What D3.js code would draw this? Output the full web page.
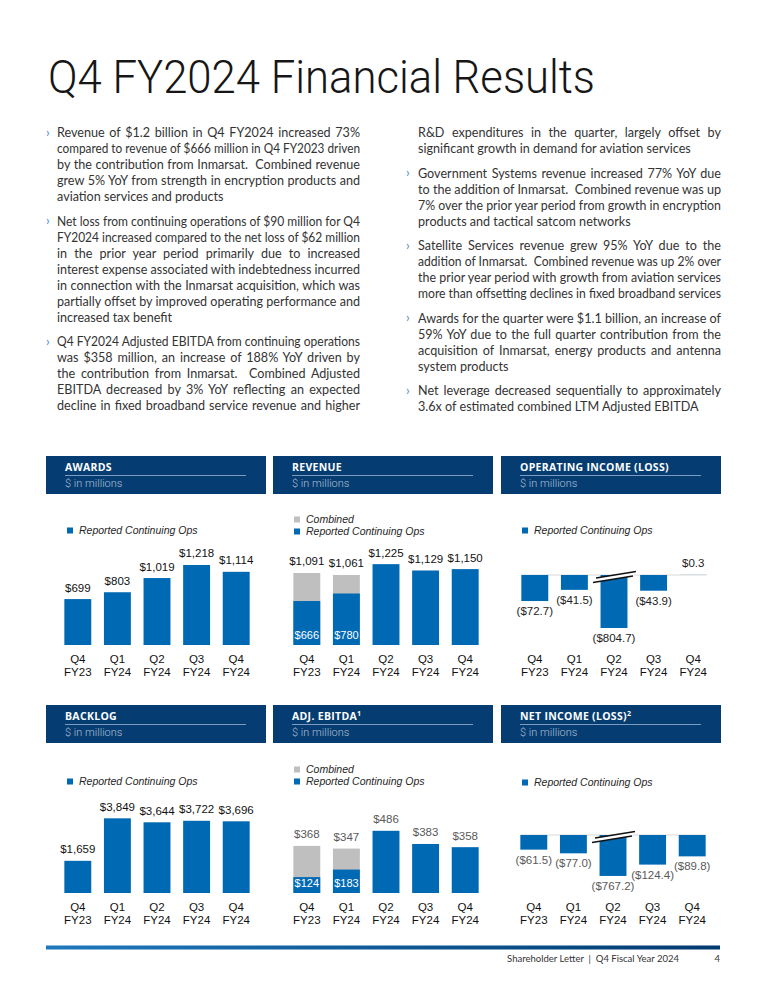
<!DOCTYPE html>
<html>
<head>
<meta charset="utf-8">
<script src="https://cdn.jsdelivr.net/npm/d3@7"></script>
<style>
  body { margin: 0; background: #fff; }
  text { white-space: pre; }
</style>
</head>
<body>
<svg id="page" width="765" height="990"></svg>
<script>
// ---- chart data ----
var quarters = ["Q4 FY23", "Q1 FY24", "Q2 FY24", "Q3 FY24", "Q4 FY24"];

var awards = [699, 803, 1019, 1218, 1114];

var revenueReported = [666, 780, 1225, 1129, 1150];
var revenueCombined = [1091, 1061, null, null, null];

var opIncome = [-72.7, -41.5, -804.7, -43.9, 0.3];

var backlog = [1659, 3849, 3644, 3722, 3696];

var ebitdaReported = [124, 183, 486, 383, 358];
var ebitdaCombined = [368, 347, null, null, null];

var netIncome = [-61.5, -77.0, -767.2, -124.4, -89.8];

var legendReported = "Reported Continuing Ops";
var legendCombined = "Combined";

// ---- body text ----
var leftParas = [
  { bullet: true, lines: [
    "Revenue of $1.2 billion in Q4 FY2024 increased 73%",
    "compared to revenue of $666 million in Q4 FY2023 driven",
    "by the contribution from Inmarsat.  Combined revenue",
    "grew 5% YoY from strength in encryption products and",
    "aviation services and products"] },
  { bullet: true, lines: [
    "Net loss from continuing operations of $90 million for Q4",
    "FY2024 increased compared to the net loss of $62 million",
    "in the prior year period primarily due to increased",
    "interest expense associated with indebtedness incurred",
    "in connection with the Inmarsat acquisition, which was",
    "partially offset by improved operating performance and",
    "increased tax benefit"] },
  { bullet: true, fullLast: true, lines: [
    "Q4 FY2024 Adjusted EBITDA from continuing operations",
    "was $358 million, an increase of 188% YoY driven by",
    "the contribution from Inmarsat.  Combined Adjusted",
    "EBITDA decreased by 3% YoY reflecting an expected",
    "decline in fixed broadband service revenue and higher"] }
];

var rightParas = [
  { bullet: false, lines: [
    "R&D expenditures in the quarter, largely offset by",
    "significant growth in demand for aviation services"] },
  { bullet: true, lines: [
    "Government Systems revenue increased 77% YoY due",
    "to the addition of Inmarsat.  Combined revenue was up",
    "7% over the prior year period from growth in encryption",
    "products and tactical satcom networks"] },
  { bullet: true, fullLast: true, lines: [
    "Satellite Services revenue grew 95% YoY due to the",
    "addition of Inmarsat.  Combined revenue was up 2% over",
    "the prior year period with growth from aviation services",
    "more than offsetting declines in fixed broadband services"] },
  { bullet: true, lines: [
    "Awards for the quarter were $1.1 billion, an increase of",
    "59% YoY due to the full quarter contribution from the",
    "acquisition of Inmarsat, energy products and antenna",
    "system products"] },
  { bullet: true, lines: [
    "Net leverage decreased sequentially to approximately",
    "3.6x of estimated combined LTM Adjusted EBITDA"] }
];

// ---- styles ----
var blue = "#0069b4",
    gray = "#bfbfbf",
    navy = "#053d72",
    chartFont = "'Liberation Sans', Arial, sans-serif",
    bodyFont = "Lato, 'Open Sans', sans-serif",
    bodySize = 12.6;

var svg = d3.select("#page");
svg.append("rect").attr("width", 765).attr("height", 990).attr("fill", "#fff");

// title
svg.append("text")
    .attr("x", 48)
    .attr("y", 93)
    .text("Q4 FY2024 Financial Results")
    .attr("font-family", "Roboto")
    .attr("font-weight", 300)
    .attr("font-size", 46)
    .attr("textLength", 547)
    .attr("lengthAdjust", "spacingAndGlyphs")
    .attr("fill", "#161616");

// justified text columns
function drawColumn(paras, x0, x1, bulletX, y0) {
  var y = y0;
  paras.forEach(function(p) {
    if (p.bullet) {
      svg.append("text")
          .attr("x", bulletX).attr("y", y - 0.5)
          .text("\u203A")
          .attr("font-family", bodyFont)
          .attr("font-size", 13)
          .attr("fill", "#4a90cf");
    }
    p.lines.forEach(function(line, li) {
      var t = svg.append("text")
          .attr("x", x0).attr("y", y)
          .text(line)
          .attr("font-family", bodyFont)
          .attr("font-size", bodySize)
          .attr("fill", "#333");
      var isLast = li === p.lines.length - 1;
      var w = t.node().getComputedTextLength();
      if (w > x1 - x0) {
        // slightly too long for the column: squeeze to fit
        t.attr("textLength", x1 - x0).attr("lengthAdjust", "spacingAndGlyphs");
      } else if (!isLast || p.fullLast) {
        var spaces = (line.match(/ /g) || []).length;
        if (spaces) t.attr("word-spacing", (x1 - x0 - w) / spaces);
      }
      y += 16;
    });
    y += 8.5;
  });
}
drawColumn(leftParas, 57, 360, 46, 137);
drawColumn(rightParas, 418, 721, 406, 137);

// ---- chart panels ----
function drawHeader(px, hy, title, sup) {
  svg.append("rect")
      .attr("x", px).attr("y", hy)
      .attr("width", 220).attr("height", 38)
      .attr("fill", navy);
  var t = svg.append("text")
      .attr("x", px + 19).attr("y", hy + 15)
      .attr("font-family", "'Open Sans', sans-serif")
      .attr("font-weight", 700)
      .attr("font-size", 10.5)
      .attr("letter-spacing", 0.3)
      .attr("fill", "#fff")
      .text(title);
  if (sup) {
    t.append("tspan").attr("dy", -4).attr("font-size", 7).text(sup);
  }
  svg.append("line")
      .attr("x1", px + 19).attr("x2", px + 200)
      .attr("y1", hy + 19.5).attr("y2", hy + 19.5)
      .attr("stroke", "#7d9bc0").attr("stroke-width", 1);
  svg.append("text")
      .attr("x", px + 19).attr("y", hy + 31)
      .attr("font-family", "Roboto")
      .attr("font-weight", 300)
      .attr("font-size", 11)
      .attr("fill", "#aebfd5")
      .text("$ in millions");
}

function fmtWhole(v) { return d3.format("$,.0f")(v); }
function fmtTenth(v) {
  return v < 0 ? "($" + d3.format(",.1f")(-v) + ")" : "$" + d3.format(",.1f")(v);
}

function drawChart(c) {
  drawHeader(c.px, c.hy, c.title, c.sup);

  // legend
  var items = c.combined ? [[legendCombined, gray], [legendReported, blue]] : [[legendReported, blue]];
  items.forEach(function(it, i) {
    var ly = c.legendY - (items.length - 1 - i) * 12;
    svg.append("rect")
        .attr("x", c.px + 21).attr("y", ly - 6.5)
        .attr("width", 6).attr("height", 6)
        .attr("fill", it[1]);
    svg.append("text")
        .attr("x", c.px + 33).attr("y", ly)
        .text(it[0])
        .attr("font-family", chartFont)
        .attr("font-style", "italic")
        .attr("font-size", 10.5)
        .attr("fill", "#262626");
  });

  var x = d3.scaleBand()
      .domain(quarters)
      .range([c.px + c.off, c.px + c.off + 198])
      .paddingInner(0.32)
      .paddingOuter(0.16);
  var y = d3.scaleLinear()
      .domain(c.domain)
      .range([c.zeroY - c.domain[0] * c.k, c.zeroY - c.domain[1] * c.k]);

  var rows = quarters.map(function(q, i) {
    var v = c.values[i];
    var shown = c.cap && Math.abs(v) > c.cap ? (v < 0 ? -c.cap : c.cap) : v;
    return { q: q, v: v, shown: shown, comb: c.combined ? c.combined[i] : null, broken: shown !== v };
  });

  var g = svg.append("g");

  if (c.zeroLine) {
    g.append("line")
        .attr("x1", x(quarters[0])).attr("x2", x(quarters[quarters.length - 1]) + x.bandwidth())
        .attr("y1", y(0)).attr("y2", y(0))
        .attr("stroke", "#d9d9d9").attr("stroke-width", 1);
  }

  // combined (grey) bars behind
  g.selectAll("rect.comb")
      .data(rows.filter(function(d) { return d.comb != null; }))
      .enter().append("rect")
      .attr("class", "comb")
      .attr("x", function(d) { return x(d.q); })
      .attr("width", x.bandwidth())
      .attr("y", function(d) { return y(d.comb); })
      .attr("height", function(d) { return y(0) - y(d.comb); })
      .attr("fill", gray);

  // reported bars
  g.selectAll("rect.rep")
      .data(rows)
      .enter().append("rect")
      .attr("class", "rep")
      .attr("x", function(d) { return x(d.q); })
      .attr("width", x.bandwidth())
      .attr("y", function(d) { return Math.min(y(0), y(d.shown)); })
      .attr("height", function(d) { return Math.abs(y(d.shown) - y(0)); })
      .attr("fill", blue);

  // axis break marks
  rows.filter(function(d) { return d.broken; }).forEach(function(d) {
    var xc = x(d.q) + x.bandwidth() / 2, y0 = y(0);
    var a = [xc - 18, y0 + 3], b = [xc + 22, y0 - 3.5];
    g.append("polygon")
        .attr("points", [a, b, [b[0] - 3, b[1] + 4.5], [a[0] - 3, a[1] + 4.5]].map(function(p) { return p.join(","); }).join(" "))
        .attr("fill", "#fff");
    [0, 1].forEach(function(k) {
      g.append("line")
          .attr("x1", a[0] - 3 * k).attr("y1", a[1] + 4.5 * k)
          .attr("x2", b[0] - 3 * k).attr("y2", b[1] + 4.5 * k)
          .attr("stroke", "#111").attr("stroke-width", 1.4);
    });
  });

  // value labels
  g.selectAll("text.val")
      .data(rows)
      .enter().append("text")
      .attr("class", "val")
      .attr("x", function(d) { return x(d.q) + x.bandwidth() / 2; })
      .attr("y", function(d) {
        var top = d.comb != null ? d.comb : d.shown;
        return top < 0 ? y(top) + 14 : y(top) - 7.5;
      })
      .attr("text-anchor", "middle")
      .attr("font-family", chartFont)
      .attr("font-size", 11.5)
      .attr("fill", c.labelColor)
      .text(function(d) { return c.fmt(d.comb != null ? d.comb : d.v); });

  // reported value inside stacked bars
  g.selectAll("text.inner")
      .data(rows.filter(function(d) { return d.comb != null; }))
      .enter().append("text")
      .attr("class", "inner")
      .attr("x", function(d) { return x(d.q) + x.bandwidth() / 2; })
      .attr("y", y(0) - 6)
      .attr("text-anchor", "middle")
      .attr("font-family", chartFont)
      .attr("font-size", 11)
      .attr("fill", "#fff")
      .text(function(d) { return c.fmt(d.v); });

  // category axis
  var ax = svg.append("g")
      .attr("transform", "translate(0," + c.axisY + ")")
      .call(d3.axisBottom(x).tickSize(0));
  ax.select(".domain").remove();
  ax.attr("font-family", chartFont).attr("font-size", 11.5);
  ax.selectAll(".tick text").each(function(d) {
    var parts = d.split(" ");
    var t = d3.select(this).text(null).attr("y", null).attr("dy", null).attr("fill", "#111");
    t.append("tspan").attr("x", 0).attr("y", 18).text(parts[0]);
    t.append("tspan").attr("x", 0).attr("y", 31).text(parts[1]);
  });
}

drawChart({ px: 46, hy: 456, off: 12, title: "AWARDS", values: awards,
  domain: [0, 1500], zeroY: 645, axisY: 645, k: 0.0657, legendY: 534,
  fmt: fmtWhole, labelColor: "#111" });

drawChart({ px: 273, hy: 456, off: 14, title: "REVENUE", values: revenueReported, combined: revenueCombined,
  domain: [0, 1500], zeroY: 645, axisY: 645, k: 0.066, legendY: 535,
  fmt: fmtWhole, labelColor: "#111" });

drawChart({ px: 501, hy: 456, off: 14, title: "OPERATING INCOME (LOSS)", values: opIncome,
  domain: [-200, 10], zeroY: 575, axisY: 645, k: 0.358, cap: 148, zeroLine: true, legendY: 534,
  fmt: fmtTenth, labelColor: "#222" });

drawChart({ px: 46, hy: 705, off: 12, title: "BACKLOG", values: backlog,
  domain: [0, 4000], zeroY: 893, axisY: 893, k: 0.0194, legendY: 785,
  fmt: fmtWhole, labelColor: "#111" });

drawChart({ px: 273, hy: 705, off: 14, title: "ADJ. EBITDA", sup: "1", values: ebitdaReported, combined: ebitdaCombined,
  domain: [0, 500], zeroY: 893, axisY: 893, k: 0.128, legendY: 785,
  fmt: fmtWhole, labelColor: "#595959" });

drawChart({ px: 501, hy: 705, off: 13, title: "NET INCOME (LOSS)", sup: "2", values: netIncome,
  domain: [-200, 0], zeroY: 835, axisY: 893, k: 0.238, cap: 172, zeroLine: true, legendY: 786,
  fmt: fmtTenth, labelColor: "#595959" });

// ---- footer ----
var grad = svg.append("defs").append("linearGradient").attr("id", "footGrad");
grad.append("stop").attr("offset", "0%").attr("stop-color", "#1f78bd");
grad.append("stop").attr("offset", "100%").attr("stop-color", "#003a6f");
svg.append("rect")
    .attr("x", 46).attr("y", 945.5)
    .attr("width", 674).attr("height", 4)
    .attr("fill", "url(#footGrad)");
svg.append("text")
    .attr("x", 679).attr("y", 962)
    .attr("text-anchor", "end")
    .attr("font-family", bodyFont)
    .attr("font-size", 9.5)
    .attr("fill", "#333")
    .text("Shareholder Letter  |  Q4 Fiscal Year 2024");
svg.append("text")
    .attr("x", 720).attr("y", 962)
    .attr("text-anchor", "end")
    .attr("font-family", bodyFont)
    .attr("font-size", 9.5)
    .attr("fill", "#333")
    .text("4");
</script>
</body>
</html>
